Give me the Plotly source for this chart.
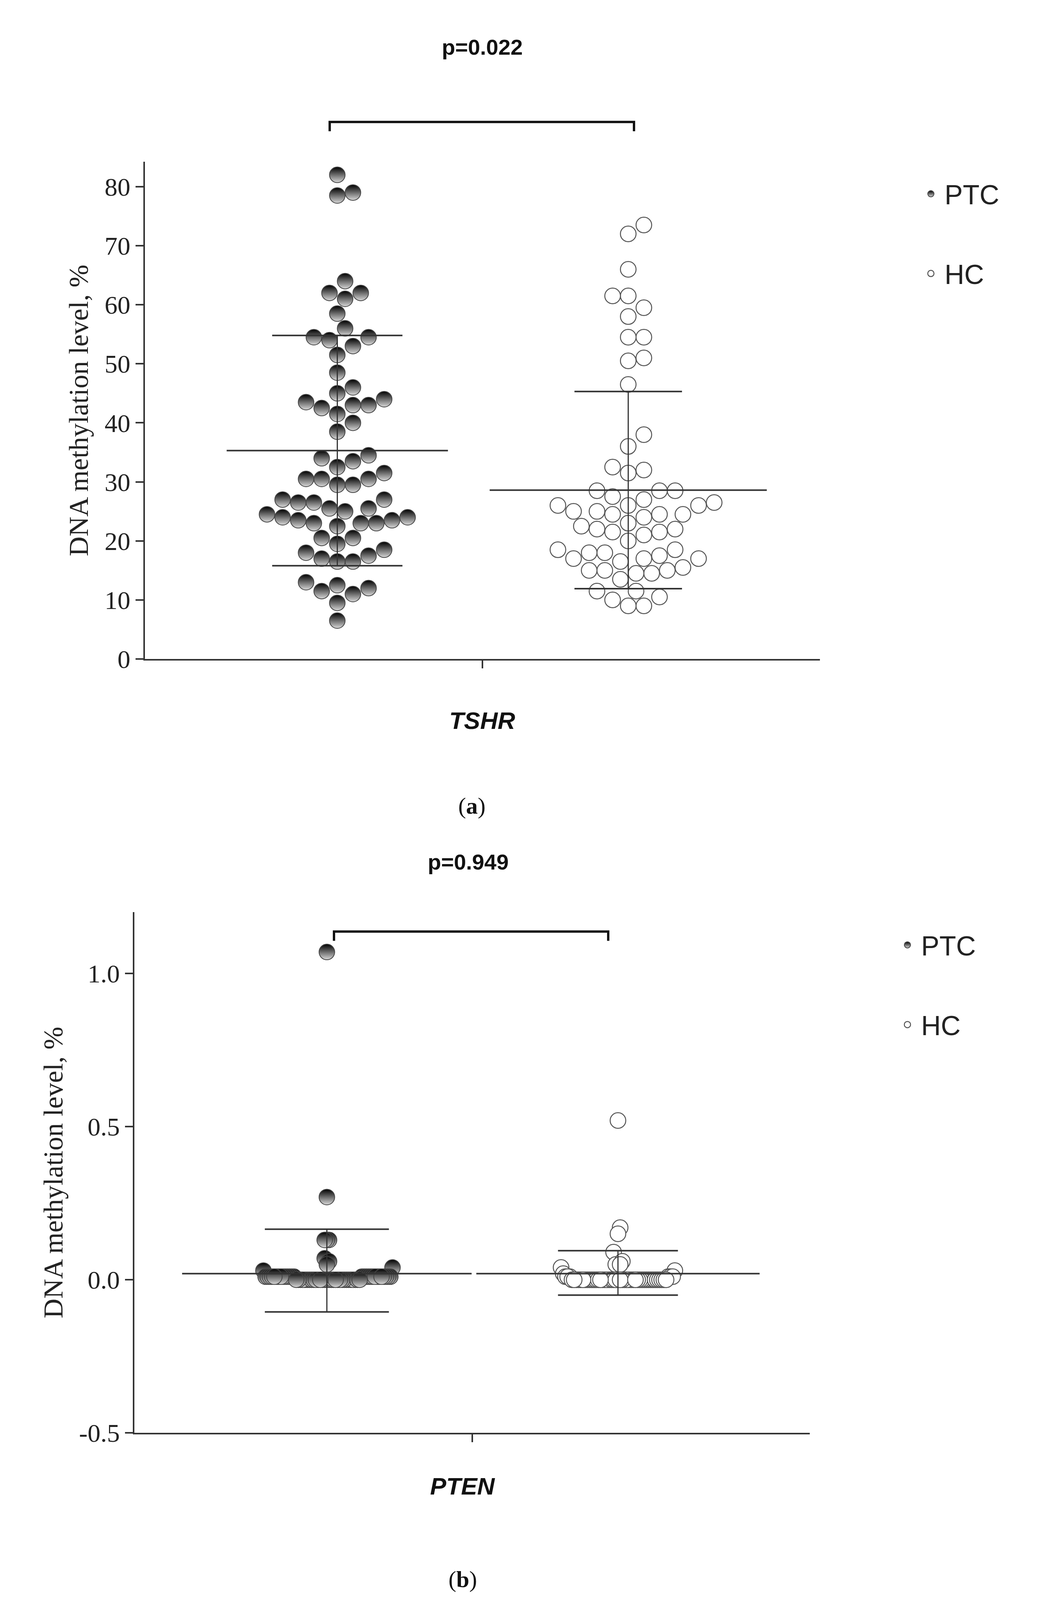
import numpy as np
import plotly.graph_objects as go

# ---- data ----
tshr_ptc = [82, 79, 78.5, 64, 62, 61, 62, 58.5, 56, 54.5, 54, 53, 54.5, 51.5, 48.5, 46, 45, 44, 43,
            42.5, 43, 43.5, 41.5, 40, 38.5, 34.5, 33.5, 34, 32.5, 31.5, 30.5, 29.5, 29.5, 30.5, 30.5,
            27, 26.5, 25.5, 24.5, 25, 25.5, 26.5, 27, 24, 23.5, 23, 23, 22.5, 23, 23.5, 24, 20.5, 20.5,
            19.5, 18, 17.5, 18.5, 17, 16.5, 16.5, 12.5, 11.5, 11, 12, 13, 9.5, 6.5]
tshr_hc = [73.5, 72, 66, 61.5, 61.5, 59.5, 58, 54.5, 54.5, 50.5, 51, 46.5, 38, 36, 32, 31.5, 32.5,
           28.5, 28.5, 28.5, 27, 26, 26, 26, 26.5, 27.5, 25, 24.5, 24.5, 24, 24.5, 25, 23, 22, 21.5,
           21.5, 22, 22.5, 21, 20, 18.5, 18, 17.5, 18, 18.5, 17, 16.5, 17, 17, 15, 15, 14.5, 13.5,
           14.5, 15, 15.5, 11.5, 10, 9, 9, 10.5, 11.5]
pten_ptc = [1.07, 0.27, 0.13, 0.13, 0.13, 0.07, 0.06, 0.05, 0.04, 0.03] + [0.01] * 28 + [0.0] * 30
pten_hc = [0.52, 0.17, 0.15, 0.09, 0.05, 0.05, 0.04, 0.06, 0.05, 0.03, 0.02] + [0.01] * 6 + [0.0] * 44

# mean and SD bars (as drawn)
tshr_mean = [35.3, 28.6]
tshr_sd_lo = [15.8, 11.9]
tshr_sd_hi = [54.8, 45.3]
pten_mean = [0.02, 0.02]
pten_sd_lo = [-0.105, -0.05]
pten_sd_hi = [0.165, 0.095]
groups = ["PTC", "HC"]
p_values = ["p=0.022", "p=0.949"]
genes = ["TSHR", "PTEN"]

W, H = 2711, 4173
D = 40  # marker diameter px
GX = [0.285, 0.716]


def swarm(vals, center, ppu_y, ppu_x, f):
    """greedy beeswarm; f squeezes the horizontal spacing"""
    order = np.argsort(vals)
    placed = []
    xs = np.zeros(len(vals))
    step = D * f / 2
    for i in order:
        yp = vals[i] * ppu_y
        k = 0
        off = None
        while off is None:
            for c in ([0] if k == 0 else [k, -k]):
                xp = c * step
                if all(np.hypot((xp - px) / f, yp - py) >= D * 0.98 for px, py in placed):
                    off = xp
                    break
            k += 1
        placed.append((off, yp))
        xs[i] = center + off / ppu_x
    return xs


fig = go.Figure()
panels = [
    dict(data=[tshr_ptc, tshr_hc], mean=tshr_mean, lo=tshr_sd_lo, hi=tshr_sd_hi,
         xd=[363 / W, 2091 / W], yd=[1 - 1694 / H, 1 - 410 / H], yr=[0, 84.2], f=1.0,
         ticks=[0, 10, 20, 30, 40, 50, 60, 70, 80], ttext=None,
         half=[107 / 1728 * 2.647, 134 / 1728 * 2.647], cap=[63 / 1728 * 2.647, 52 / 1728 * 2.647]),
    dict(data=[pten_ptc, pten_hc], mean=pten_mean, lo=pten_sd_lo, hi=pten_sd_hi,
         xd=[336 / W, 2065 / W], yd=[1 - 3693 / H, 1 - 2348 / H], yr=[-0.5, 1.2], f=0.14,
         ticks=[-0.5, 0, 0.5, 1.0], ttext=["-0.5", "0.0", "0.5", "1.0"],
         half=[140 / 1729 * 2.647, 137 / 1729 * 2.647], cap=[60 / 1729 * 2.647, 58 / 1729 * 2.647]),
]

for pi, pn in enumerate(panels):
    xa = "x" if pi == 0 else "x2"
    ya = "y" if pi == 0 else "y2"
    wpx = (pn["xd"][1] - pn["xd"][0]) * W
    hpx = (pn["yd"][1] - pn["yd"][0]) * H
    ppu_y = hpx / (pn["yr"][1] - pn["yr"][0])
    leg = "legend" if pi == 0 else "legend2"
    for gi in range(2):
        vals = np.array(pn["data"][gi], dtype=float)
        xs = swarm(vals, GX[gi], ppu_y, wpx, pn["f"])
        if gi == 0:
            mk = dict(size=D, color="#000000", gradient=dict(type="vertical", color="#d8d8d8"),
                      line=dict(color="#444444", width=2))
        else:
            mk = dict(size=D, color="white", line=dict(color="#555555", width=2.5))
        fig.add_trace(go.Scatter(x=xs, y=vals, mode="markers", marker=mk, name=groups[gi],
                                 xaxis=xa, yaxis=ya, legend=leg, legendgroup=f"{pi}{gi}",
                                 showlegend=True))
        c = GX[gi]
        ln = dict(color="#333333", width=4)
        fig.add_shape(type="line", xref=xa, yref=ya, x0=c - pn["half"][gi], x1=c + pn["half"][gi],
                      y0=pn["mean"][gi], y1=pn["mean"][gi], line=ln)
        for v in (pn["lo"][gi], pn["hi"][gi]):
            fig.add_shape(type="line", xref=xa, yref=ya, x0=c - pn["cap"][gi], x1=c + pn["cap"][gi],
                          y0=v, y1=v, line=ln)
        fig.add_shape(type="line", xref=xa, yref=ya, x0=c, x1=c, y0=pn["lo"][gi], y1=pn["hi"][gi],
                      line=dict(color="#333333", width=3))

    axis_common = dict(showline=True, linecolor="#333333", linewidth=4, ticks="outside",
                       tickcolor="#333333", tickwidth=4, ticklen=20, showgrid=False, zeroline=False)
    fig.layout[("xaxis" if pi == 0 else "xaxis2")] = dict(
        domain=pn["xd"], range=[0, 1], anchor=ya, tickvals=[0.5], ticktext=[""], **axis_common)
    fig.layout[("yaxis" if pi == 0 else "yaxis2")] = dict(
        domain=pn["yd"], range=pn["yr"], anchor=xa, tickvals=pn["ticks"], ticktext=pn["ttext"],
        tickfont=dict(family="Liberation Serif", size=66, color="#222222"),
        title=dict(text="DNA methylation level, %", standoff=20,
                   font=dict(family="Liberation Serif", size=70, color="#222222")),
        **axis_common)

# annotations and brackets (pixel positions from the reference)
texts = [
    (1226, 114, p_values[0], dict(family="Liberation Sans", size=56, color="#111111"), True, False),
    (1226, 1853, genes[0], dict(family="Liberation Sans", size=62, color="#111111"), True, True),
    (1200, 2073, "(<b>a</b>)", dict(family="Liberation Serif", size=60, color="#111111"), False, False),
    (1190, 2218, p_values[1], dict(family="Liberation Sans", size=56, color="#111111"), True, False),
    (1176, 3830, genes[1], dict(family="Liberation Sans", size=62, color="#111111"), True, True),
    (1176, 4071, "(<b>b</b>)", dict(family="Liberation Serif", size=60, color="#111111"), False, False),
]
for x, y, t, fnt, bold, ital in texts:
    s = t
    if bold:
        s = "<b>" + s + "</b>"
    if ital:
        s = "<i>" + s + "</i>"
    fig.add_annotation(x=x / W, y=1 - y / H, xref="paper", yref="paper", text=s, showarrow=False,
                       font=fnt, xanchor="center", yanchor="middle")

for x0, x1, yt, yb in [(836, 1615, 307, 331), (847, 1549, 2398, 2422)]:
    fig.add_shape(type="path", xref="paper", yref="paper",
                  path=f"M {x0/W} {1-yb/H} L {x0/W} {1-yt/H} L {x1/W} {1-yt/H} L {x1/W} {1-yb/H}",
                  line=dict(color="#111111", width=6))

leg_style = dict(font=dict(family="Liberation Sans", size=70, color="#222222"), bgcolor="rgba(0,0,0,0)",
                 xanchor="left", yanchor="top", tracegroupgap=110, itemwidth=60)
fig.update_layout(
    width=W, height=H, margin=dict(l=0, r=0, t=0, b=0), plot_bgcolor="white", paper_bgcolor="white",
    legend=dict(x=2340 / W, y=1 - 440 / H, **leg_style),
    legend2=dict(x=2280 / W, y=1 - 2380 / H, **leg_style),
)

fig.write_html("out.html")
